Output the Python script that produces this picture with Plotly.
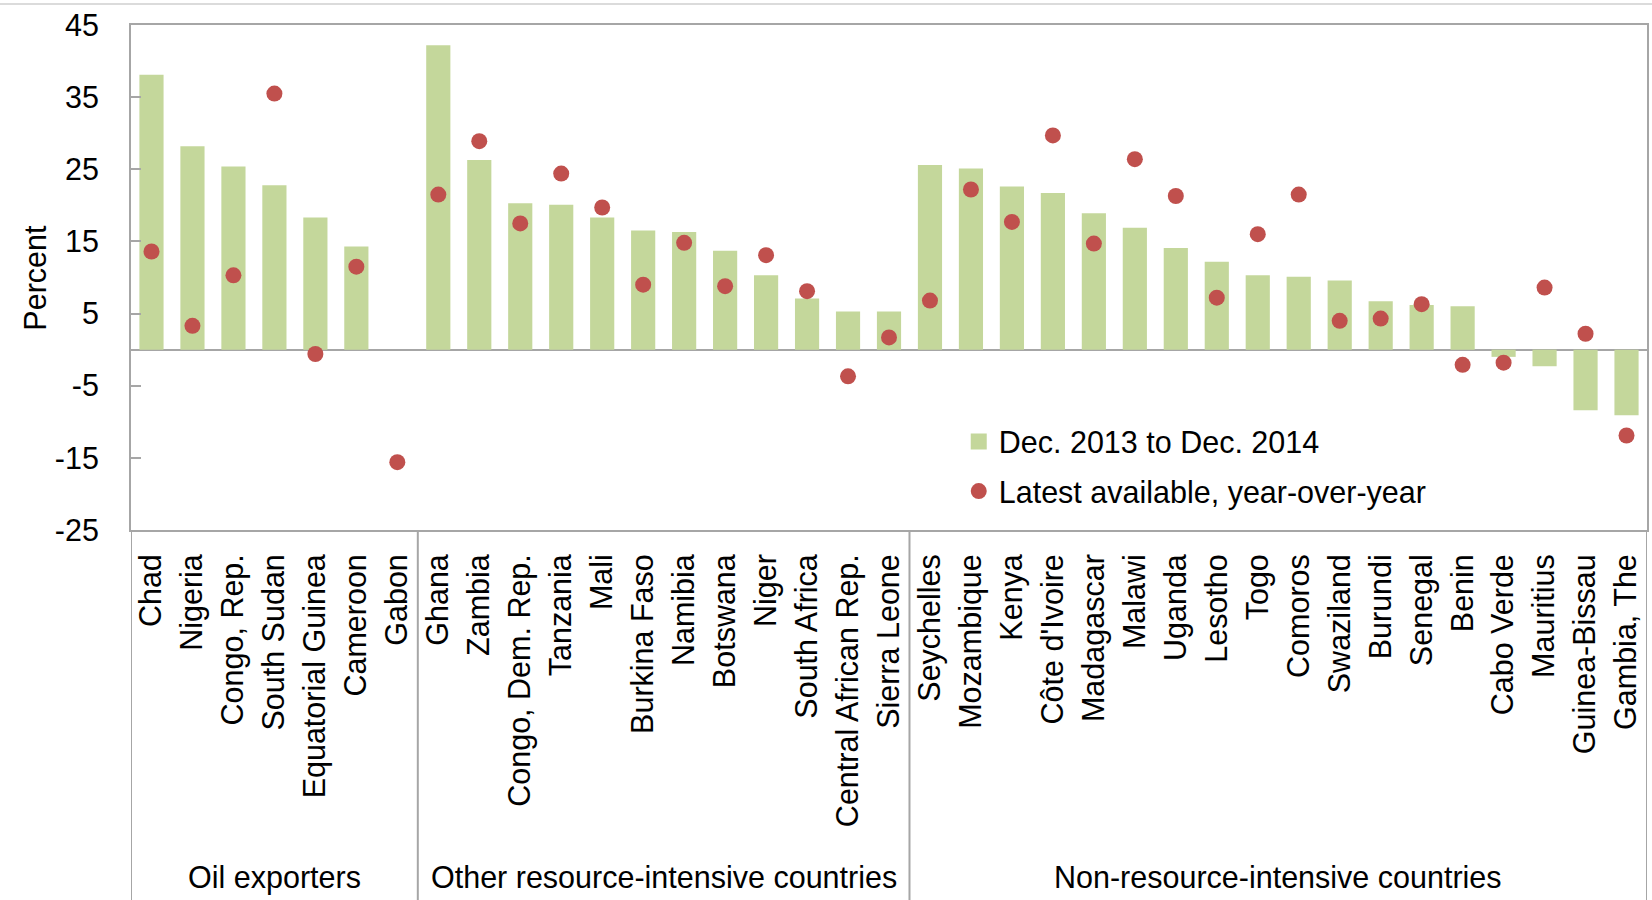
import plotly.graph_objects as go

# Country groups, in drawing order
oil_exporters = ["Chad", "Nigeria", "Congo, Rep.", "South Sudan", "Equatorial Guinea",
                 "Cameroon", "Gabon"]
other_resource = ["Ghana", "Zambia", "Congo, Dem. Rep.", "Tanzania", "Mali", "Burkina Faso",
                  "Namibia", "Botswana", "Niger", "South Africa", "Central African Rep.",
                  "Sierra Leone"]
non_resource = ["Seychelles", "Mozambique", "Kenya", "Côte d'Ivoire", "Madagascar", "Malawi",
                "Uganda", "Lesotho", "Togo", "Comoros", "Swaziland", "Burundi", "Senegal",
                "Benin", "Cabo Verde", "Mauritius", "Guinea-Bissau", "Gambia, The"]

group_names = ["Oil exporters", "Other resource-intensive countries",
               "Non-resource-intensive countries"]

# Percent change, Dec. 2013 to Dec. 2014
dec_to_dec = [38.1, 28.2, 25.4, 22.8, 18.3, 14.3, None,
              42.2, 26.3, 20.3, 20.1, 18.3, 16.5, 16.3, 13.7, 10.3, 7.1, 5.3, 5.3,
              25.6, 25.1, 22.6, 21.7, 18.9, 16.9, 14.1, 12.2, 10.3, 10.1, 9.6, 6.7, 6.2,
              6.0, -1.0, -2.3, -8.4, -9.1]

# Latest available, year-over-year
latest_yoy = [13.6, 3.3, 10.3, 35.5, -0.6, 11.5, -15.6,
              21.5, 28.9, 17.5, 24.4, 19.7, 9.0, 14.8, 8.8, 13.1, 8.1, -3.7, 1.7,
              6.8, 22.2, 17.7, 29.7, 14.7, 26.4, 21.3, 7.2, 16.0, 21.5, 4.0, 4.3, 6.3,
              -2.1, -1.8, 8.6, 2.2, -11.9]

y_ticks = [-25, -15, -5, 5, 15, 25, 35, 45]

countries = oil_exporters + other_resource + non_resource
groups = [oil_exporters, other_resource, non_resource]

FONT = "Liberation Sans, Arial, sans-serif"
FS = 30.5
AXIS_GREY = "#A6A6A6"
BAR_GREEN = "#C4D79B"
DOT_RED = "#C0504D"

fig = go.Figure()
fig.add_trace(go.Bar(
    x=countries, y=dec_to_dec, name="Dec. 2013 to Dec. 2014",
    marker=dict(color=BAR_GREEN, line=dict(width=0)),
    showlegend=False, legendgroup="bars",
))
# Legend key for the bars: a plain green square
fig.add_trace(go.Scatter(
    x=[None], y=[None], mode="markers", name="Dec. 2013 to Dec. 2014",
    marker=dict(color=BAR_GREEN, size=18, symbol="square", line=dict(width=0)),
    legendgroup="bars", hoverinfo="skip",
))
fig.add_trace(go.Scatter(
    x=countries, y=latest_yoy, mode="markers", name="Latest available, year-over-year",
    marker=dict(color=DOT_RED, size=16, line=dict(width=0)),
    legendgroup="dots",
))

plot_bottom_px = 370
plot_height_px = 505
bottom_paper = -plot_bottom_px / plot_height_px

# Vertical separators through the category label area
shapes = []
edges = [-0.5]
n = 0
for g in groups:
    n += len(g)
    edges.append(n - 0.5)
for e in edges:
    shapes.append(dict(type="line", xref="x", yref="paper", x0=e, x1=e,
                       y0=bottom_paper, y1=0, line=dict(color=AXIS_GREY, width=2)))
# Thin rule along the top of the figure
shapes.append(dict(type="line", xref="paper", yref="paper", x0=-0.2, x1=1.2,
                   y0=(plot_height_px + 21) / plot_height_px,
                   y1=(plot_height_px + 21) / plot_height_px,
                   line=dict(color="#CFCFCF", width=1.5)))

# Group captions centred under each block of countries
annotations = []
start = 0
for name, g in zip(group_names, groups):
    centre = start + (len(g) - 1) / 2
    annotations.append(dict(text=name, x=centre, xref="x", y=-347 / plot_height_px,
                            yref="paper", showarrow=False, xanchor="center",
                            yanchor="middle", font=dict(family=FONT, size=FS, color="black")))
    start += len(g)
annotations.append(dict(text="Percent", x=-97 / 1518, xref="paper", y=0.5, yref="paper",
                        textangle=-90, showarrow=False, xanchor="center", yanchor="middle",
                        font=dict(family=FONT, size=FS, color="black")))

fig.update_layout(
    width=1652, height=900,
    margin=dict(l=131, r=3, t=25, b=plot_bottom_px, pad=0),
    paper_bgcolor="white", plot_bgcolor="white",
    font=dict(family=FONT, size=FS, color="black"),
    bargap=0.41,
    showlegend=True,
    legend=dict(x=0.546, y=0.2275, xanchor="left", yanchor="top",
                bgcolor="rgba(0,0,0,0)", font=dict(family=FONT, size=FS, color="black"),
                traceorder="grouped", tracegroupgap=7),
    shapes=shapes,
    annotations=annotations,
)
fig.update_xaxes(
    type="category", tickmode="array", tickvals=countries, ticktext=countries,
    tickangle=-90, ticks="", ticklabelstandoff=10,
    showline=True, mirror=True, linecolor=AXIS_GREY, linewidth=2,
    showgrid=False, zeroline=False, range=[-0.5, len(countries) - 0.5],
    tickfont=dict(family=FONT, size=FS, color="black"),
)
fig.update_yaxes(
    range=[-25, 45], tickmode="array", tickvals=y_ticks, ticktext=[str(v) for v in y_ticks],
    ticks="inside", ticklen=10, tickwidth=2, tickcolor=AXIS_GREY, ticklabelstandoff=24,
    showline=True, mirror=True, linecolor=AXIS_GREY, linewidth=2,
    showgrid=False, zeroline=True, zerolinecolor=AXIS_GREY, zerolinewidth=2,
    tickfont=dict(family=FONT, size=FS, color="black"),
)

fig.write_html("out.html")
